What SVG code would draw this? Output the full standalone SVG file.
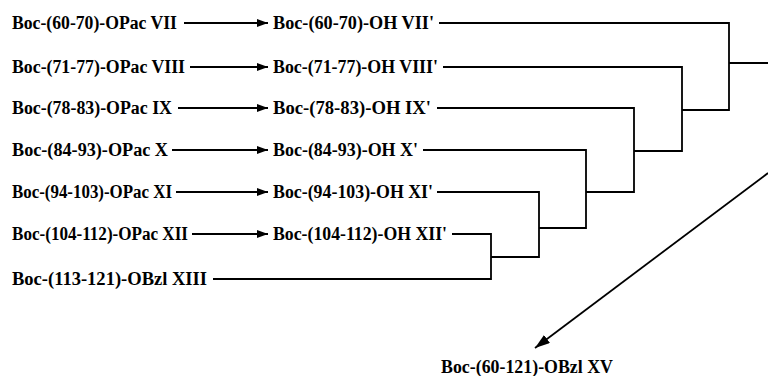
<svg xmlns="http://www.w3.org/2000/svg" width="768" height="376" viewBox="0 0 768 376">
<style>
text{font-family:"Liberation Serif","Times New Roman",serif;font-weight:bold;font-size:18px;fill:#000}
.c{stroke:#000;stroke-width:1.8;fill:none}
</style>
<defs>
<marker id="ah" markerUnits="userSpaceOnUse" markerWidth="11" markerHeight="8" refX="11" refY="4" orient="auto">
<path d="M0,0 L11,4 L0,8 z" fill="#000"/>
</marker>
<marker id="ahd" markerUnits="userSpaceOnUse" markerWidth="15" markerHeight="10" refX="15" refY="5" orient="auto">
<path d="M0,0 L15,5 L0,10 z" fill="#000"/>
</marker>
</defs>
<rect width="768" height="376" fill="#fff"/>
<g id="n7"><text x="12" y="29" textLength="165" lengthAdjust="spacingAndGlyphs">Boc-(60-70)-OPac VII</text></g>
<g id="n8"><text x="12" y="73" textLength="173" lengthAdjust="spacingAndGlyphs">Boc-(71-77)-OPac VIII</text></g>
<g id="n9"><text x="12" y="114" textLength="160" lengthAdjust="spacingAndGlyphs">Boc-(78-83)-OPac IX</text></g>
<g id="n10"><text x="12" y="156" textLength="156" lengthAdjust="spacingAndGlyphs">Boc-(84-93)-OPac X</text></g>
<g id="n11"><text x="12" y="198" textLength="160" lengthAdjust="spacingAndGlyphs">Boc-(94-103)-OPac XI</text></g>
<g id="n12"><text x="12" y="240" textLength="176" lengthAdjust="spacingAndGlyphs">Boc-(104-112)-OPac XII</text></g>
<g id="n13"><text x="12" y="285" textLength="195" lengthAdjust="spacingAndGlyphs">Boc-(113-121)-OBzl XIII</text></g>
<g id="n7p"><text x="273" y="29" textLength="161" lengthAdjust="spacingAndGlyphs">Boc-(60-70)-OH VII'</text></g>
<g id="n8p"><text x="273" y="73" textLength="165" lengthAdjust="spacingAndGlyphs">Boc-(71-77)-OH VIII'</text></g>
<g id="n9p"><text x="273" y="114" textLength="158" lengthAdjust="spacingAndGlyphs">Boc-(78-83)-OH IX'</text></g>
<g id="n10p"><text x="273" y="156" textLength="145" lengthAdjust="spacingAndGlyphs">Boc-(84-93)-OH X'</text></g>
<g id="n11p"><text x="273" y="198" textLength="160" lengthAdjust="spacingAndGlyphs">Boc-(94-103)-OH XI'</text></g>
<g id="n12p"><text x="273" y="240" textLength="174" lengthAdjust="spacingAndGlyphs">Boc-(104-112)-OH XII'</text></g>
<g id="n15"><text x="441" y="373" textLength="172" lengthAdjust="spacingAndGlyphs">Boc-(60-121)-OBzl XV</text></g>
<g id="connectors">
<line class="c" x1="184" y1="23" x2="268" y2="23" marker-end="url(#ah)"/>
<line class="c" x1="190" y1="67" x2="268" y2="67" marker-end="url(#ah)"/>
<line class="c" x1="178" y1="108" x2="268" y2="108" marker-end="url(#ah)"/>
<line class="c" x1="172" y1="150" x2="268" y2="150" marker-end="url(#ah)"/>
<line class="c" x1="176" y1="192" x2="268" y2="192" marker-end="url(#ah)"/>
<line class="c" x1="192" y1="234" x2="268" y2="234" marker-end="url(#ah)"/>
<polyline class="c" points="439,23 729,23 729,110 682,110"/>
<polyline class="c" points="443,67 682,67 682,151 634,151"/>
<polyline class="c" points="437,108 634,108 634,192 586,192"/>
<polyline class="c" points="423,150 586,150 586,228 539,228"/>
<polyline class="c" points="437,192 539,192 539,257 491,257"/>
<polyline class="c" points="452,234 491,234 491,279 213,279"/>
<line class="c" x1="729" y1="63" x2="768" y2="63"/>
<line class="c" x1="768" y1="173" x2="535" y2="348" marker-end="url(#ahd)"/>
</g>
</svg>
